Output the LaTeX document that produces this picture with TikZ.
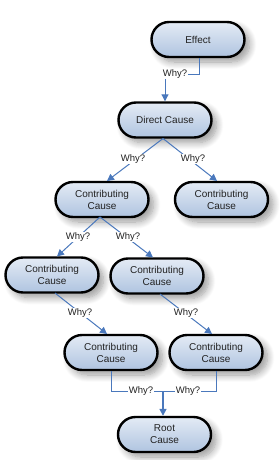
\documentclass[tikz,border=0pt]{standalone}
\usepackage{fontspec}
\setmainfont{Liberation Sans}
\usetikzlibrary{shadows.blur,arrows.meta}
\definecolor{topfill}{HTML}{E4EBF5}
\definecolor{botfill}{HTML}{AFC4E0}
\definecolor{linkblue}{HTML}{4A78BC}
\definecolor{txt}{HTML}{222222}
\tikzset{
  cause/.style={rectangle, rounded corners=17.5pt, draw=black, line width=2.4pt,
    top color=topfill, bottom color=botfill, minimum width=93pt, minimum height=35pt,
    inner sep=0pt, align=center, font=\fontsize{10}{12}\selectfont, text=txt,
    blur shadow={shadow xshift=5pt, shadow yshift=-5pt, shadow blur steps=10, shadow blur radius=7pt, shadow opacity=40}},
  link/.style={draw=linkblue, line width=1pt, -{Triangle[length=7pt,width=7pt]}},
  plain/.style={draw=linkblue, line width=1pt},
  why/.style={fill=white, inner sep=1pt, font=\fontsize{9.5}{11}\selectfont, text=txt}
}
\begin{document}
\begin{tikzpicture}[x=1pt,y=-1pt]
\useasboundingbox (0,0) rectangle (279,460);
\node[cause] (eff) at (198,39.5) {Effect};
\node[cause] (dir) at (165,120) {Direct Cause};
\node[cause] (c2l) at (102,199.5) {Contributing\\Cause};
\node[cause] (c2r) at (221.5,199.5) {Contributing\\Cause};
\node[cause] (c3l) at (52,275) {Contributing\\Cause};
\node[cause] (c3r) at (157,276) {Contributing\\Cause};
\node[cause] (c4l) at (111,352.5) {Contributing\\Cause};
\node[cause] (c4r) at (216,352.5) {Contributing\\Cause};
\node[cause] (root) at (164.5,434.5) {Root\\Cause};
% Effect -> Direct
\coordinate (e1) at (199,74);
\coordinate (e2) at (165,74);
\draw[plain] (eff.south -| e1) -- (e1) -- (e2);
\draw[link] (e2) -- (dir.north);
\node[why] (w0) at (175,74) {Why?};
% Direct -> level 2
\coordinate (d0) at (163,138.5);
\draw[link] (d0) -- (107,181) coordinate (a1);
\draw[link] (d0) -- (217,181) coordinate (a2);
\node[why] (w1) at (133,159) {Why?};
\node[why] (w2) at (193,159) {Why?};
% level 2 -> level 3
\coordinate (l0) at (100,217);
\draw[link] (l0) -- (57,256.5);
\draw[link] (l0) -- (153,257.5);
\node[why] (w3) at (78,237) {Why?};
\node[why] (w4) at (128,237) {Why?};
% level 3 -> level 4
\draw[link] (55,293) -- (107,334);
\draw[link] (160,294) -- (212,334);
\node[why] (w5) at (80,313) {Why?};
\node[why] (w6) at (186,313) {Why?};
% level 4 -> root
\coordinate (m) at (163,391);
\draw[plain] (c4l.south) |- (m);
\draw[plain] (c4r.south) |- (m);
\draw[link, line width=1.6pt] (m) -- (root.north -| m);
\node[why] (w7) at (141,391) {Why?};
\node[why] (w8) at (188,391) {Why?};
\end{tikzpicture}
\end{document}
